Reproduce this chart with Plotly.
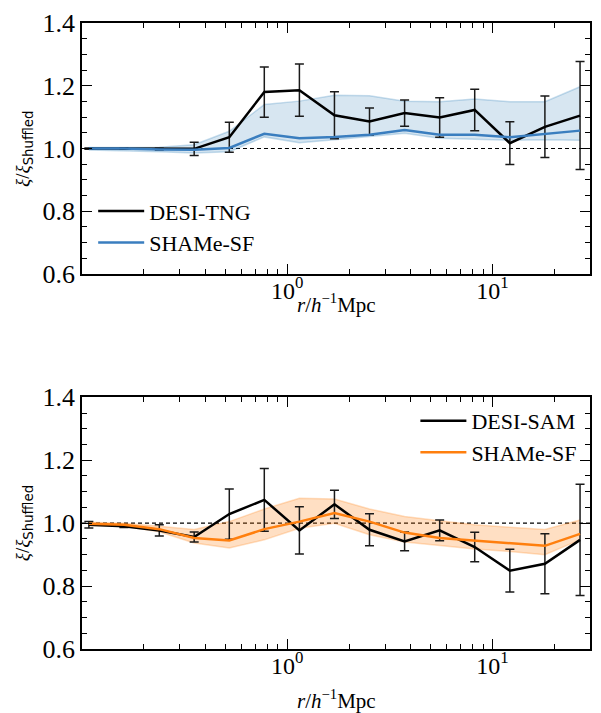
import plotly.graph_objects as go

# radial bins (h^-1 Mpc)
r = [0.108, 0.160, 0.238, 0.352, 0.522, 0.773, 1.146, 1.698, 2.516,
     3.730, 5.528, 8.19, 12.15, 18.0, 26.7]

# --- upper panel: DESI-TNG vs SHAMe-SF ---
tng_ratio = [1.000, 1.000, 0.998, 0.999, 1.036, 1.180, 1.186, 1.106, 1.086,
             1.113, 1.099, 1.123, 1.017, 1.069, 1.105]
tng_err = [0.002, 0.002, 0.003, 0.021, 0.048, 0.080, 0.083, 0.075, 0.043,
           0.042, 0.063, 0.066, 0.068, 0.098, 0.172]
shame_tng_mean = [1.000, 1.000, 0.997, 0.996, 1.002, 1.047, 1.033, 1.037,
                  1.044, 1.059, 1.044, 1.044, 1.036, 1.047, 1.057]
shame_tng_lo = [0.995, 0.993, 0.990, 0.986, 0.990, 1.037, 1.018, 1.028,
                1.039, 1.049, 1.033, 1.030, 1.026, 1.028, 1.026]
shame_tng_hi = [1.003, 1.003, 1.004, 1.012, 1.055, 1.140, 1.151, 1.170,
                1.168, 1.151, 1.149, 1.158, 1.149, 1.149, 1.197]

# --- lower panel: DESI-SAM vs SHAMe-SF ---
sam_ratio = [0.995, 0.990, 0.977, 0.956, 1.029, 1.074, 0.977, 1.060, 0.979,
             0.942, 0.977, 0.924, 0.849, 0.871, 0.947]
sam_err = [0.010, 0.004, 0.018, 0.016, 0.080, 0.100, 0.075, 0.045, 0.051,
           0.030, 0.033, 0.047, 0.068, 0.095, 0.177]
shame_sam_mean = [0.998, 0.995, 0.981, 0.953, 0.945, 0.981, 1.005, 1.032,
                  1.005, 0.970, 0.953, 0.945, 0.937, 0.928, 0.966]
shame_sam_lo = [0.993, 0.990, 0.973, 0.937, 0.921, 0.947, 0.984, 1.000,
                0.963, 0.940, 0.929, 0.918, 0.910, 0.900, 0.947]
shame_sam_hi = [1.003, 1.000, 0.990, 0.980, 1.005, 1.045, 1.079, 1.077,
                1.045, 1.021, 1.008, 0.995, 0.987, 0.980, 1.010]

x_major = [1, 10]
x_major_text = ["10<sup>0</sup>", "10<sup>1</sup>"]
x_minor = [0.2, 0.3, 0.4, 0.5, 0.6, 0.7, 0.8, 0.9,
           2, 3, 4, 5, 6, 7, 8, 9, 20, 30]
y_major = [0.6, 0.8, 1.0, 1.2, 1.4]

BLUE = "#3a7ebf"
ORANGE = "#ff7f0e"
SERIF = "Liberation Serif"

fig = go.Figure()


def add_panel(xa, ya, legend, obs, obs_err, obs_name, mean, lo, hi,
              color, band_fill, band_edge):
    # shaded SHAMe-SF envelope
    fig.add_trace(go.Scatter(x=r, y=lo, mode="lines", xaxis=xa, yaxis=ya,
                             legend=legend,
                             line=dict(color=band_edge, width=1.5),
                             showlegend=False, hoverinfo="skip"))
    fig.add_trace(go.Scatter(x=r, y=hi, mode="lines", xaxis=xa, yaxis=ya,
                             legend=legend,
                             line=dict(color=band_edge, width=1.5),
                             fill="tonexty", fillcolor=band_fill,
                             showlegend=False, hoverinfo="skip"))
    # observed ratio with error bars
    fig.add_trace(go.Scatter(x=r, y=obs, mode="lines", name=obs_name,
                             xaxis=xa, yaxis=ya, legend=legend,
                             line=dict(color="black", width=2.5),
                             error_y=dict(type="data", array=obs_err,
                                          color="#1a1a1a", thickness=1.5,
                                          width=4.5)))
    # SHAMe-SF mean
    fig.add_trace(go.Scatter(x=r, y=mean, mode="lines", name="SHAMe-SF",
                             xaxis=xa, yaxis=ya, legend=legend,
                             line=dict(color=color, width=2.5)))


add_panel("x", "y", "legend", tng_ratio, tng_err, "DESI-TNG",
          shame_tng_mean, shame_tng_lo, shame_tng_hi, BLUE,
          "rgba(31,119,180,0.18)", "rgba(31,119,180,0.24)")
add_panel("x2", "y2", "legend2", sam_ratio, sam_err, "DESI-SAM",
          shame_sam_mean, shame_sam_lo, shame_sam_hi, ORANGE,
          "rgba(255,127,14,0.25)", "rgba(255,127,14,0.25)")

# reference line at unity
for xr, yr in (("x domain", "y"), ("x2 domain", "y2")):
    fig.add_shape(type="line", xref=xr, yref=yr, x0=0, x1=1, y0=1, y1=1,
                  line=dict(color="black", width=1.2, dash="4px,3px"),
                  layer="below")

xaxis_style = dict(
    type="log", range=[-1.0, 1.475],
    tickmode="array", tickvals=x_major, ticktext=x_major_text,
    ticks="inside", ticklen=10, tickwidth=1.2, tickcolor="black",
    minor=dict(tickmode="array", tickvals=x_minor, ticks="inside",
               ticklen=5, tickwidth=1, tickcolor="black"),
    showline=True, linecolor="black", linewidth=1.5, mirror="allticks",
    showgrid=False, zeroline=False, ticklabelstandoff=-6,
    tickfont=dict(family=SERIF, size=24, color="black"),
)
yaxis_style = dict(
    range=[0.6, 1.4], tickmode="array", tickvals=y_major, tickformat=".1f",
    ticks="inside", ticklen=10, tickwidth=1.2, tickcolor="black",
    minor=dict(dtick=0.05, ticks="inside", ticklen=5, tickwidth=1,
               tickcolor="black"),
    showline=True, linecolor="black", linewidth=1.5, mirror="allticks",
    showgrid=False, zeroline=False,
    tickfont=dict(family=SERIF, size=26, color="black"),
)

legend_style = dict(font=dict(family=SERIF, size=22, color="black"),
                    bgcolor="rgba(0,0,0,0)", borderwidth=0,
                    itemwidth=46, tracegroupgap=0, traceorder="normal")

fig.update_layout(
    width=601, height=713,
    margin=dict(l=82, r=9, t=19, b=64),
    paper_bgcolor="white", plot_bgcolor="white",
    xaxis=dict(domain=[0, 1], anchor="y", **xaxis_style),
    yaxis=dict(domain=[0.599, 1.0], anchor="x", **yaxis_style),
    xaxis2=dict(domain=[0, 1], anchor="y2", **xaxis_style),
    yaxis2=dict(domain=[0.0, 0.402], anchor="x2", **yaxis_style),
    legend=dict(x=0.022, y=0.733, xanchor="left", yanchor="top",
                **legend_style),
    legend2=dict(x=0.985, y=0.398, xanchor="right", yanchor="top",
                 **legend_style),
)

ytitle = ("<i>ξ</i>/<i>ξ</i><sub><span style='font-family:DejaVu Sans'>"
          "Shuffled</span></sub>")
xtitle = "<i>r</i>/<i>h</i><sup>−1</sup>Mpc"

for yc in (0.799, 0.201):
    fig.add_annotation(text=ytitle, xref="paper", yref="paper",
                       x=-0.114, y=yc, textangle=-90, showarrow=False,
                       xanchor="center", yanchor="middle",
                       font=dict(family=SERIF, size=19, color="black"))
for yc in (0.552, -0.080):
    fig.add_annotation(text=xtitle, xref="paper", yref="paper",
                       x=0.5, y=yc, showarrow=False,
                       xanchor="center", yanchor="middle",
                       font=dict(family=SERIF, size=21, color="black"))

fig.write_html("out.html")
